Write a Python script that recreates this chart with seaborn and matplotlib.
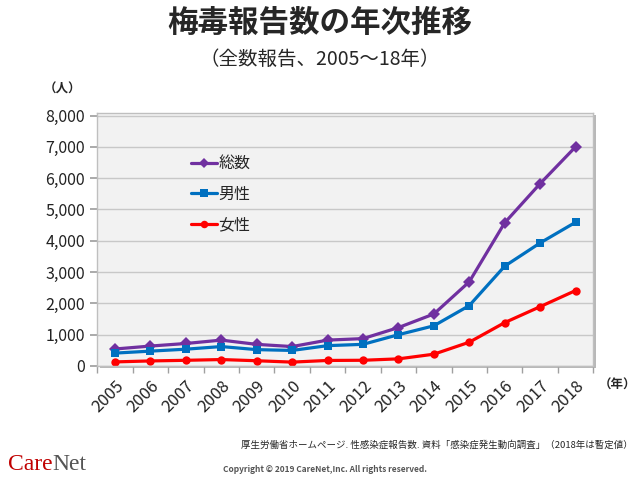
import seaborn as sns
import pandas as pd
from matplotlib import pyplot as plt
from matplotlib.patches import Rectangle

#--------------------------Data------------------------------------------------
years = [2005, 2006, 2007, 2008, 2009, 2010, 2011, 2012, 2013, 2014, 2015, 2016, 2017, 2018]
total = [543, 637, 719, 827, 691, 621, 827, 875, 1228, 1661, 2690, 4575, 5826, 7001]
male = [412, 475, 537, 621, 523, 497, 650, 692, 1000, 1284, 1930, 3189, 3931, 4591]
female = [131, 162, 182, 206, 168, 124, 177, 183, 228, 377, 760, 1386, 1895, 2410]
series_names = ['総数', '男性', '女性']
y_ticks = [0, 1000, 2000, 3000, 4000, 5000, 6000, 7000, 8000]

#long-form table for seaborn
df = pd.DataFrame({
    'year': years * 3,
    'count': total + male + female,
    'series': [series_names[0]] * len(years) + [series_names[1]] * len(years) + [series_names[2]] * len(years),
})

#--------------------------Style-----------------------------------------------
sns.set_theme(style='white')
plt.rcParams['font.family'] = ['Noto Sans CJK JP', 'DejaVu Sans']

palette = {'総数': '#7030A0', '男性': '#0070C0', '女性': '#FF0000'}
markers = {'総数': 'D', '男性': 's', '女性': 'o'}

fig = plt.figure(figsize=(6.4, 4.8), dpi=100)
ax_rect = [0.152, 0.2375, 0.775, 0.527]

#shadow behind the plot area
shadow = Rectangle((ax_rect[0] + 0.004, ax_rect[1] - 0.005), ax_rect[2], ax_rect[3],
                   transform=fig.transFigure, facecolor='#b8b8b8', edgecolor='none', zorder=-1)
fig.patches.append(shadow)

ax = fig.add_axes(ax_rect)
ax.set_zorder(1)
ax.set_facecolor('#f2f2f2')

sns.lineplot(data=df, x='year', y='count', hue='series', style='series',
             palette=palette, markers=markers, dashes=False, linewidth=2.3,
             markersize=6, markeredgewidth=0, hue_order=series_names,
             style_order=series_names, ax=ax)

#--------------------------Axes------------------------------------------------
ax.set_xlim(years[0] - 0.5, years[-1] + 0.5)
ax.set_ylim(0, 8080)
ax.set_yticks(y_ticks)
ax.set_yticklabels(['{:,}'.format(v) for v in y_ticks], fontsize=11.5, color='#222222')
ax.set_xticks(years)
ax.set_xticklabels([str(y) for y in years], rotation=45, ha='right',
                   rotation_mode='anchor', fontsize=12, color='#222222')
ax.set_xticks([y + 0.5 for y in [years[0] - 1] + years], minor=True)
ax.tick_params(axis='x', which='major', length=0, pad=8)
ax.tick_params(axis='x', which='minor', length=5, color='#a0a0a0', direction='out', bottom=True)
ax.tick_params(axis='y', length=5, color='#a0a0a0', direction='out', left=True, pad=4)
ax.grid(axis='y', color='#c8c8c8', linewidth=1)
ax.set_axisbelow(True)
for side in ['top', 'right', 'bottom', 'left']:
    ax.spines[side].set_color('#bfbfbf')
    ax.spines[side].set_linewidth(1)
ax.set_xlabel('')
ax.set_ylabel('')

ax.legend(loc='upper left', bbox_to_anchor=(0.16, 0.89), frameon=False, fontsize=11.5,
          handlelength=1.6, handletextpad=0.1, labelspacing=0.85, markerscale=0.9)

#--------------------------Titles and notes------------------------------------
fig.text(0.5, 0.952, '梅毒報告数の年次推移', ha='center', va='center', fontsize=22, weight='bold')
fig.text(0.5, 0.877, '（全数報告、2005～18年）', ha='center', va='center', fontsize=14)
fig.text(0.098, 0.815, '（人）', ha='center', va='center', fontsize=9, weight='bold')
fig.text(0.965, 0.198, '（年）', ha='center', va='center', fontsize=9, weight='bold')
fig.text(0.988, 0.074, '厚生労働省ホームページ. 性感染症報告数. 資料「感染症発生動向調査」（2018年は暫定値）',
         ha='right', va='center', fontsize=6.8)
fig.text(0.508, 0.022, 'Copyright © 2019 CareNet,Inc. All rights reserved.',
         ha='center', va='center', fontsize=6, weight='bold', color='#555555')
fig.text(0.012, 0.033, 'Care', ha='left', va='center', fontsize=17,
         family='Liberation Serif', color='#c00000')
fig.text(0.082, 0.033, 'Net', ha='left', va='center', fontsize=17,
         family='Liberation Serif', color='#555555')

fig.savefig('out.png', dpi=100)
